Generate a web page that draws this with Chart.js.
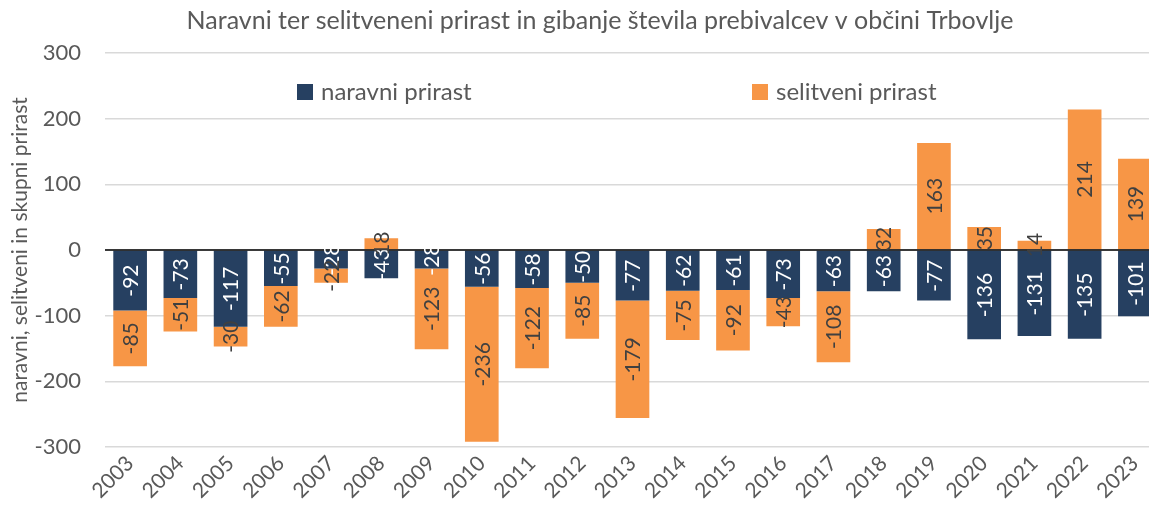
<!DOCTYPE html>
<html><head><meta charset="utf-8">
<script src="https://cdn.jsdelivr.net/npm/chart.js@4.4.1/dist/chart.umd.min.js"></script>
<style>
html,body{margin:0;padding:0;overflow:hidden;background:#fff;width:1149px;height:520px}
canvas{display:block}
</style></head>
<body>
<canvas id="c" width="1160" height="520" style="width:1160px;height:520px"></canvas>
<script>
const years = ['2003','2004','2005','2006','2007','2008','2009','2010','2011','2012','2013','2014','2015','2016','2017','2018','2019','2020','2021','2022','2023'];
const naravni = [-92,-73,-117,-55,-28,-43,-28,-56,-58,-50,-77,-62,-61,-73,-63,-63,-77,-136,-131,-135,-101];
const selitveni = [-85,-51,-30,-62,-22,18,-123,-236,-122,-85,-179,-75,-92,-43,-108,32,163,35,14,214,139];
const yTickValues = [-300,-200,-100,0,100,200,300];
const titleText = 'Naravni ter selitveneni prirast in gibanje števila prebivalcev v občini Trbovlje';
const yTitleText = 'naravni, selitveni in skupni prirast';
const seriesNames = ['naravni prirast','selitveni prirast'];

const FONT = 'Lato, "Open Sans", sans-serif';
const GREY = '#595959';

const overlay = {
  id: 'overlay',
  afterDatasetsDraw(chart) {
    const ctx = chart.ctx;
    const ys = chart.scales.y;
    const ca = chart.chartArea;
    const y0 = ys.getPixelForValue(0);
    ctx.save();
    ctx.strokeStyle = '#000';
    ctx.lineWidth = 1.5;
    ctx.beginPath();
    ctx.moveTo(ca.left, y0);
    ctx.lineTo(ca.right, y0);
    ctx.stroke();
    ctx.font = '21px ' + FONT;
    ctx.textAlign = 'center';
    ctx.textBaseline = 'middle';
    chart.data.datasets.forEach((ds, di) => {
      const meta = chart.getDatasetMeta(di);
      meta.data.forEach((el, i) => {
        const v = ds.data[i];
        const cy = (el.y + el.base) / 2;
        ctx.save();
        ctx.translate(el.x, cy);
        ctx.rotate(-Math.PI / 2);
        ctx.fillStyle = di === 0 ? '#ffffff' : '#404040';
        ctx.fillText(String(v), 0, 1);
        ctx.restore();
      });
    });
    ctx.restore();
  },
  afterDraw(chart) {
    const ctx = chart.ctx;
    ctx.save();
    ctx.font = '25px ' + FONT;
    ctx.fillStyle = GREY;
    ctx.textAlign = 'center';
    ctx.textBaseline = 'middle';
    ctx.fillText(titleText, 600, 21);
    const items = [[297, 0], [752, 1]];
    items.forEach(([x, di]) => {
      const ds = chart.data.datasets[di];
      ctx.fillStyle = ds.backgroundColor;
      ctx.fillRect(x, 84, 16, 16);
      ctx.fillStyle = GREY;
      ctx.textAlign = 'left';
      ctx.font = '24px ' + FONT;
      ctx.fillText(ds.label, x + 24, 92);
    });
    ctx.restore();
  }
};

new Chart(document.getElementById('c'), {
  type: 'bar',
  data: {
    labels: years,
    datasets: [
      { label: seriesNames[0], data: naravni, backgroundColor: '#264061', borderWidth: 0, barPercentage: 0.67, categoryPercentage: 1 },
      { label: seriesNames[1], data: selitveni, backgroundColor: '#F79646', borderWidth: 0, barPercentage: 0.67, categoryPercentage: 1 }
    ]
  },
  options: {
    responsive: false,
    animation: false,
    devicePixelRatio: 1,
    layout: { padding: { top: 53, left: 8, right: 0, bottom: 0 } },
    plugins: { legend: { display: false }, title: { display: false }, tooltip: { enabled: false } },
    scales: {
      x: {
        stacked: true,
        grid: { display: false, drawTicks: false },
        border: { display: false },
        ticks: { color: GREY, font: { size: 21, family: FONT }, maxRotation: 45, minRotation: 45, padding: 4 },
        afterFit(s) { s.height = 73; }
      },
      y: {
        stacked: true,
        min: -300, max: 300,
        afterBuildTicks(s) { s.ticks = yTickValues.map(v => ({ value: v })); },
        grid: { color: '#d9d9d9', lineWidth: 1.5, drawTicks: false },
        border: { display: false },
        ticks: { color: GREY, font: { size: 22, family: FONT }, padding: 24 },
        title: { display: true, text: yTitleText, color: GREY, font: { size: 21, family: FONT }, padding: { top: 0, bottom: 0 } },
        afterFit(s) { s.width = 97; }
      }
    }
  },
  plugins: [overlay]
});
</script>
</body></html>
